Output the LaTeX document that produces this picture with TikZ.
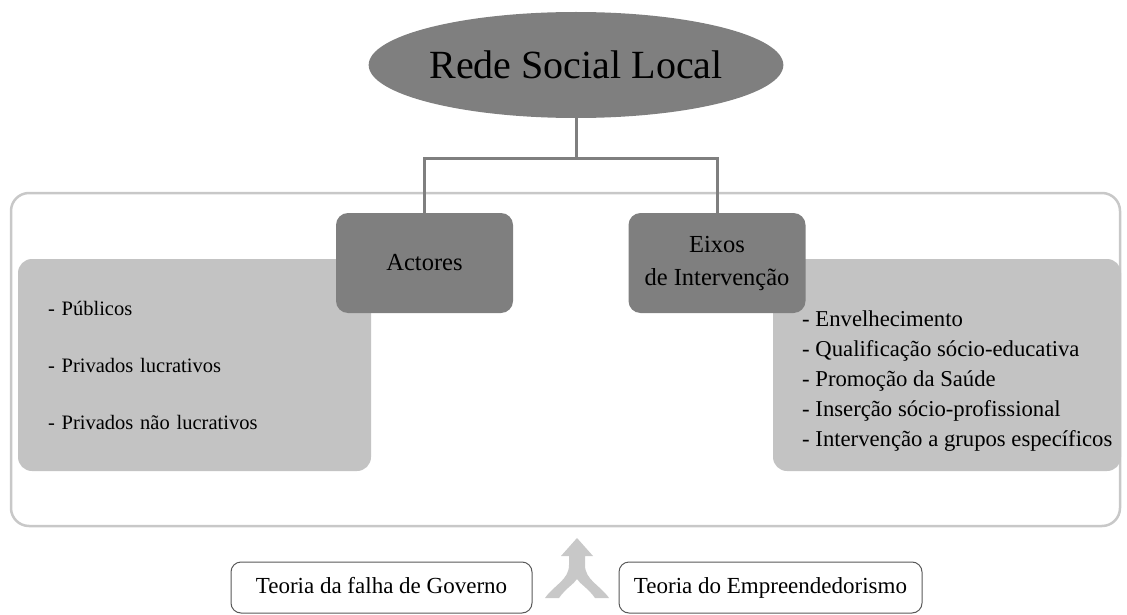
\documentclass[tikz,border=0pt]{standalone}
\usepackage{fontspec}
\setmainfont{Liberation Serif}
\usepackage{tikz}
\usetikzlibrary{shapes.geometric}

\definecolor{darkbox}{RGB}{127,127,127}
\definecolor{lightbox}{RGB}{195,195,195}
\definecolor{framegray}{RGB}{200,200,200}
\definecolor{arrowgray}{RGB}{200,200,200}

\begin{document}
\begin{tikzpicture}[x=1pt,y=-1pt]
		\tikzset{rootnode/.style={ellipse,fill=darkbox,minimum width=407pt,minimum height=106pt,inner sep=0pt,font=\fontsize{40}{44}\selectfont}}
		\tikzset{headbox/.style={rectangle,rounded corners=12pt,fill=darkbox,minimum width=177pt,minimum height=100pt,align=center,font=\fontsize{24.5}{33}\selectfont}}
		\tikzset{listbox/.style={rectangle,rounded corners=14pt,fill=lightbox,minimum height=212pt}}
		\tikzset{theorybox/.style={rectangle,rounded corners=10pt,draw=black!65,line width=1pt,fill=white,minimum height=51pt,text height=16pt,text depth=5pt,font=\fontsize{23}{27}\selectfont}}
		\tikzset{framebox/.style={rectangle,rounded corners=18pt,draw=framegray,line width=2.5pt}}
		\tikzset{link/.style={draw=darkbox,line width=3pt}}
		\useasboundingbox (0,0) rectangle (1127,615);
		\node[framebox,minimum width=1109pt,minimum height=333pt] (ambito) at (565.5,359.5) {};
		\node[listbox,minimum width=353pt,text width=293pt,inner xsep=30pt,align=left,font=\fontsize{20.5}{57}\selectfont] (publist) at (194.5,365) {- Públicos\\- Privados lucrativos\\- Privados não lucrativos};
		\node[listbox,minimum width=348pt] (eixolist) at (947,365) {};
		\node[anchor=west,align=left,inner sep=0pt,font=\fontsize{22.7}{30}\selectfont] (eixotext) at (802,381) {- Envelhecimento\\- Qualificação sócio-educativa\\- Promoção da Saúde\\- Inserção sócio-profissional\\- Intervenção a grupos específicos};
		\node[headbox] (actores) at (424.5,263) {Actores};
		\node[headbox] (eixos) at (717,263) {Eixos\\de Intervenção};
		\node[rootnode] (root) at (576,65) {Rede Social Local};
		\coordinate (fork) at (576,159);
		\draw[link] (root) -- (fork);
		\draw[link] (fork) -| (actores);
		\draw[link] (fork) -| (eixos);
		\node[theorybox,minimum width=301pt] (teogov) at (381.5,587.5) {Teoria da falha de Governo};
		\node[theorybox,minimum width=303pt] (teoemp) at (770.5,587.5) {Teoria do Empreendedorismo};
		\fill[arrowgray] (577,538) -- (593,556) -- (585,556) -- (585,565) .. controls (585,580) and (600,585) .. (609,598) -- (595,598) .. controls (588,588) and (580,584) .. (577,579) .. controls (574,584) and (566,588) .. (559,598) -- (545,598) .. controls (554,585) and (569,580) .. (569,565) -- (569,556) -- (561,556) -- cycle;
	\end{tikzpicture}
\end{document}
